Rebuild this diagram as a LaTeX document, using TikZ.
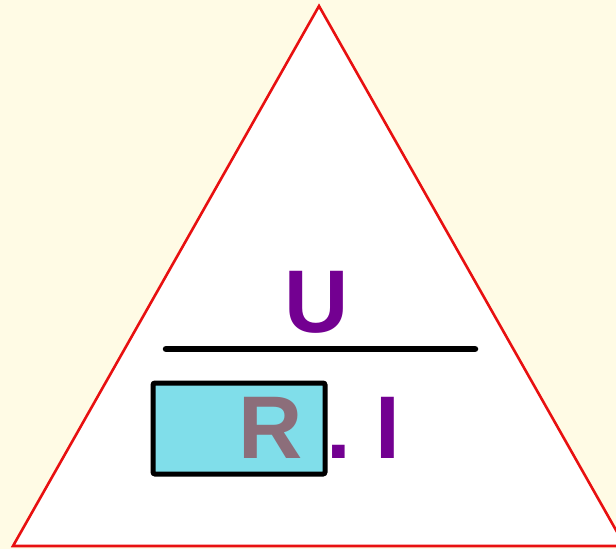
\documentclass[tikz,border=0pt]{standalone}
\usepackage{fontspec}
\setmainfont{Liberation Sans}
\definecolor{bgcream}{RGB}{255,251,229}
\definecolor{trired}{RGB}{232,16,16}
\definecolor{lblpurple}{RGB}{115,0,145}
\definecolor{boxcyan}{RGB}{128,222,234}
\definecolor{rmauve}{RGB}{140,110,122}
\begin{document}
\begin{tikzpicture}[x=1pt,y=-1pt,
  bigtxt/.style={inner sep=0pt,font=\fontsize{89}{89}\selectfont\bfseries}]
\useasboundingbox (0,0) rectangle (616,549);
\fill[bgcream] (0,0) rectangle (616,549);
\coordinate (apex) at (319,6);
\coordinate (bl) at (13,546);
\coordinate (br) at (625,546);
\draw[trired,fill=white,line width=2.6pt,line join=miter] (apex) -- (br) -- (bl) -- cycle;
\coordinate (la) at (166,349);
\coordinate (lb) at (475,349);
\draw[black,line width=6.5pt,line cap=round] (la) -- (lb);
\node[bigtxt,text=lblpurple,anchor=base] (u) at (317,332) {U};
\draw[black,fill=boxcyan,line width=5pt,rounded corners=2pt] (153,383) rectangle (325,474);
\node[bigtxt,text=rmauve,anchor=base] (r) at (271,458) {R};
\node[bigtxt,text=lblpurple,anchor=base west] (i) at (326,458) {.\ I};
\end{tikzpicture}
\end{document}
